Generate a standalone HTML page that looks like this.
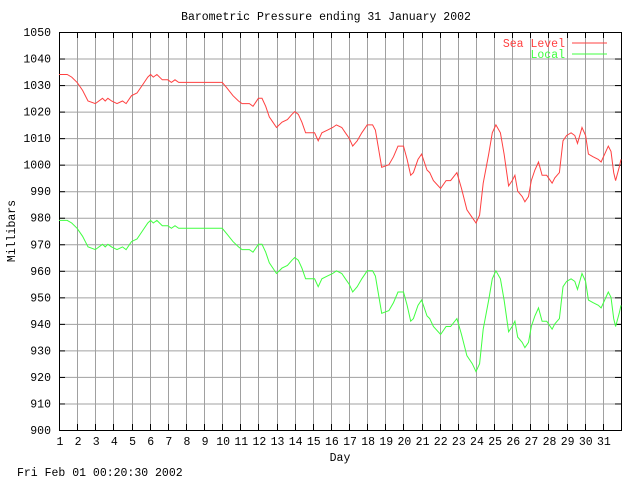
<!DOCTYPE html>
<html><head><meta charset="utf-8"><style>
html,body{margin:0;padding:0;background:#fff;}
svg{display:block;font-family:"Liberation Mono",monospace;font-size:11.5px;}
</style></head><body>
<svg id="chart" width="640" height="480" viewBox="0 0 640 480" xmlns="http://www.w3.org/2000/svg">
<text x="326" y="20" text-anchor="middle">Barometric Pressure ending 31 January 2002</text>
<g id="grid"></g>
<g id="axes"></g>
<g id="series"></g>
<text x="340" y="461" text-anchor="middle">Day</text>
<text x="0" y="0" text-anchor="middle" transform="translate(15,231) rotate(-90)">Millibars</text>
<text x="17" y="476">Fri Feb 01 00:20:30 2002</text>
<g>
<text x="565" y="47" text-anchor="end" fill="#ff4040">Sea Level</text>
<line x1="572" y1="43" x2="607" y2="43" stroke="#ff4040"/>
<text x="565" y="58" text-anchor="end" fill="#40ff40">Local</text>
<line x1="572" y1="54" x2="607" y2="54" stroke="#40ff40"/>
</g>
</svg>
<script>
const yTicks=[900,910,920,930,940,950,960,970,980,990,1000,1010,1020,1030,1040,1050];
const xTicks=[1,2,3,4,5,6,7,8,9,10,11,12,13,14,15,16,17,18,19,20,21,22,23,24,25,26,27,28,29,30,31];
const days=[1.0,1.45,1.7,2.0,2.3,2.6,3.0,3.4,3.55,3.7,3.9,4.2,4.5,4.7,5.0,5.3,5.6,5.9,6.05,6.2,6.4,6.7,7.0,7.2,7.4,7.6,8.0,8.5,9.0,9.5,10.0,10.25,10.6,10.9,11.1,11.5,11.7,12.0,12.2,12.4,12.6,12.8,13.0,13.3,13.6,13.85,14.0,14.2,14.4,14.6,14.9,15.1,15.3,15.5,15.8,16.1,16.3,16.6,16.8,17.0,17.2,17.45,17.7,18.0,18.3,18.45,18.6,18.8,19.2,19.45,19.7,20.0,20.2,20.4,20.55,20.8,21.0,21.3,21.45,21.65,22.05,22.35,22.6,22.95,23.2,23.5,23.8,24.0,24.2,24.4,24.7,24.9,25.1,25.35,25.55,25.8,26.0,26.15,26.3,26.55,26.7,26.9,27.05,27.25,27.45,27.65,27.9,28.2,28.35,28.6,28.8,29.0,29.25,29.45,29.6,29.85,30.05,30.2,30.45,30.75,30.9,31.1,31.3,31.45,31.6,31.7,31.9,32.0];
const seaLevel=[1034,1034,1033,1031,1028,1024,1023,1025,1024,1025,1024,1023,1024,1023,1026,1027,1030,1033,1034,1033,1034,1032,1032,1031,1032,1031,1031,1031,1031,1031,1031,1029,1026,1024,1023,1023,1022,1025,1025,1022,1018,1016,1014,1016,1017,1019,1020,1019,1016,1012,1012,1012,1009,1012,1013,1014,1015,1014,1012,1010,1007,1009,1012,1015,1015,1013,1007,999,1000,1003,1007,1007,1002,996,997,1002,1004,998,997,994,991,994,994,997,991,983,980,978,981,993,1004,1012,1015,1012,1004,992,994,996,990,988,986,988,994,998,1001,996,996,993,995,997,1009,1011,1012,1011,1008,1014,1011,1004,1003,1002,1001,1004,1007,1005,997,994,999,1002];
const local=[979,979,978,976,973,969,968,970,969,970,969,968,969,968,971,972,975,978,979,978,979,977,977,976,977,976,976,976,976,976,976,974,971,969,968,968,967,970,970,967,963,961,959,961,962,964,965,964,961,957,957,957,954,957,958,959,960,959,957,955,952,954,957,960,960,958,952,944,945,948,952,952,947,941,942,947,949,943,942,939,936,939,939,942,936,928,925,922,925,938,949,957,960,957,949,937,939,941,935,933,931,933,939,943,946,941,941,938,940,942,954,956,957,956,953,959,956,949,948,947,946,949,952,950,942,939,944,947];
const L=59,R=621,T=32,B=430,D0=1,D1=32,V0=900,V1=1050;
const xs=d=>L+(d-D0)*(R-L)/(D1-D0);
const ys=v=>B-(v-V0)*(B-T)/(V1-V0);
const NS="http://www.w3.org/2000/svg";
const grid=document.getElementById('grid'),axes=document.getElementById('axes'),series=document.getElementById('series');
function mk(tag,attrs,parent){const e=document.createElementNS(NS,tag);for(const k in attrs)e.setAttribute(k,attrs[k]);parent.appendChild(e);return e;}
yTicks.forEach(v=>{
  const y=ys(v)+0.5;
  if(v>V0&&v<V1){const g=mk('line',{x1:L,x2:R,y1:y,y2:y,stroke:'#a0a0a0'},grid);
  
  }
  const t=mk('line',{x1:L,x2:L+6,y1:y,y2:y,stroke:'#000'},axes);
  
  
  const t2=mk('line',{x1:R-6,x2:R,y1:y,y2:y,stroke:'#000'},axes);
  
  
  const lb=mk('text',{x:51,y:ys(v)+4,'text-anchor':'end'},axes);lb.textContent=v;
  
  
});
xTicks.forEach(d=>{
  const x=Math.round(xs(d))+0.5;
  if(d>D0){const g=mk('line',{x1:x,x2:x,y1:T,y2:B,stroke:'#a0a0a0'},grid);
  
  }
  const t=mk('line',{x1:x,x2:x,y1:B-6,y2:B,stroke:'#000'},axes);
  
  
  const t2=mk('line',{x1:x,x2:x,y1:T,y2:T+6,stroke:'#000'},axes);
  
  
  const lb=mk('text',{x:xs(d)+1,y:445,'text-anchor':'middle'},axes);lb.textContent=d;
  
  
});
const frame=mk('rect',{x:L+0.5,y:T+0.5,width:R-L,height:B-T,fill:'none',stroke:'#000'},axes);


function line(vals,color,name){
  const pts=days.map((d,i)=>xs(d).toFixed(1)+','+ys(vals[i]).toFixed(1)).join(' ');
  const p=mk('polyline',{points:pts,fill:'none',stroke:color,'stroke-width':1},series);
  
  
}
line(seaLevel,'#ff4040','sea-level-line');
line(local,'#40ff40','local-line');
</script>
</body></html>
